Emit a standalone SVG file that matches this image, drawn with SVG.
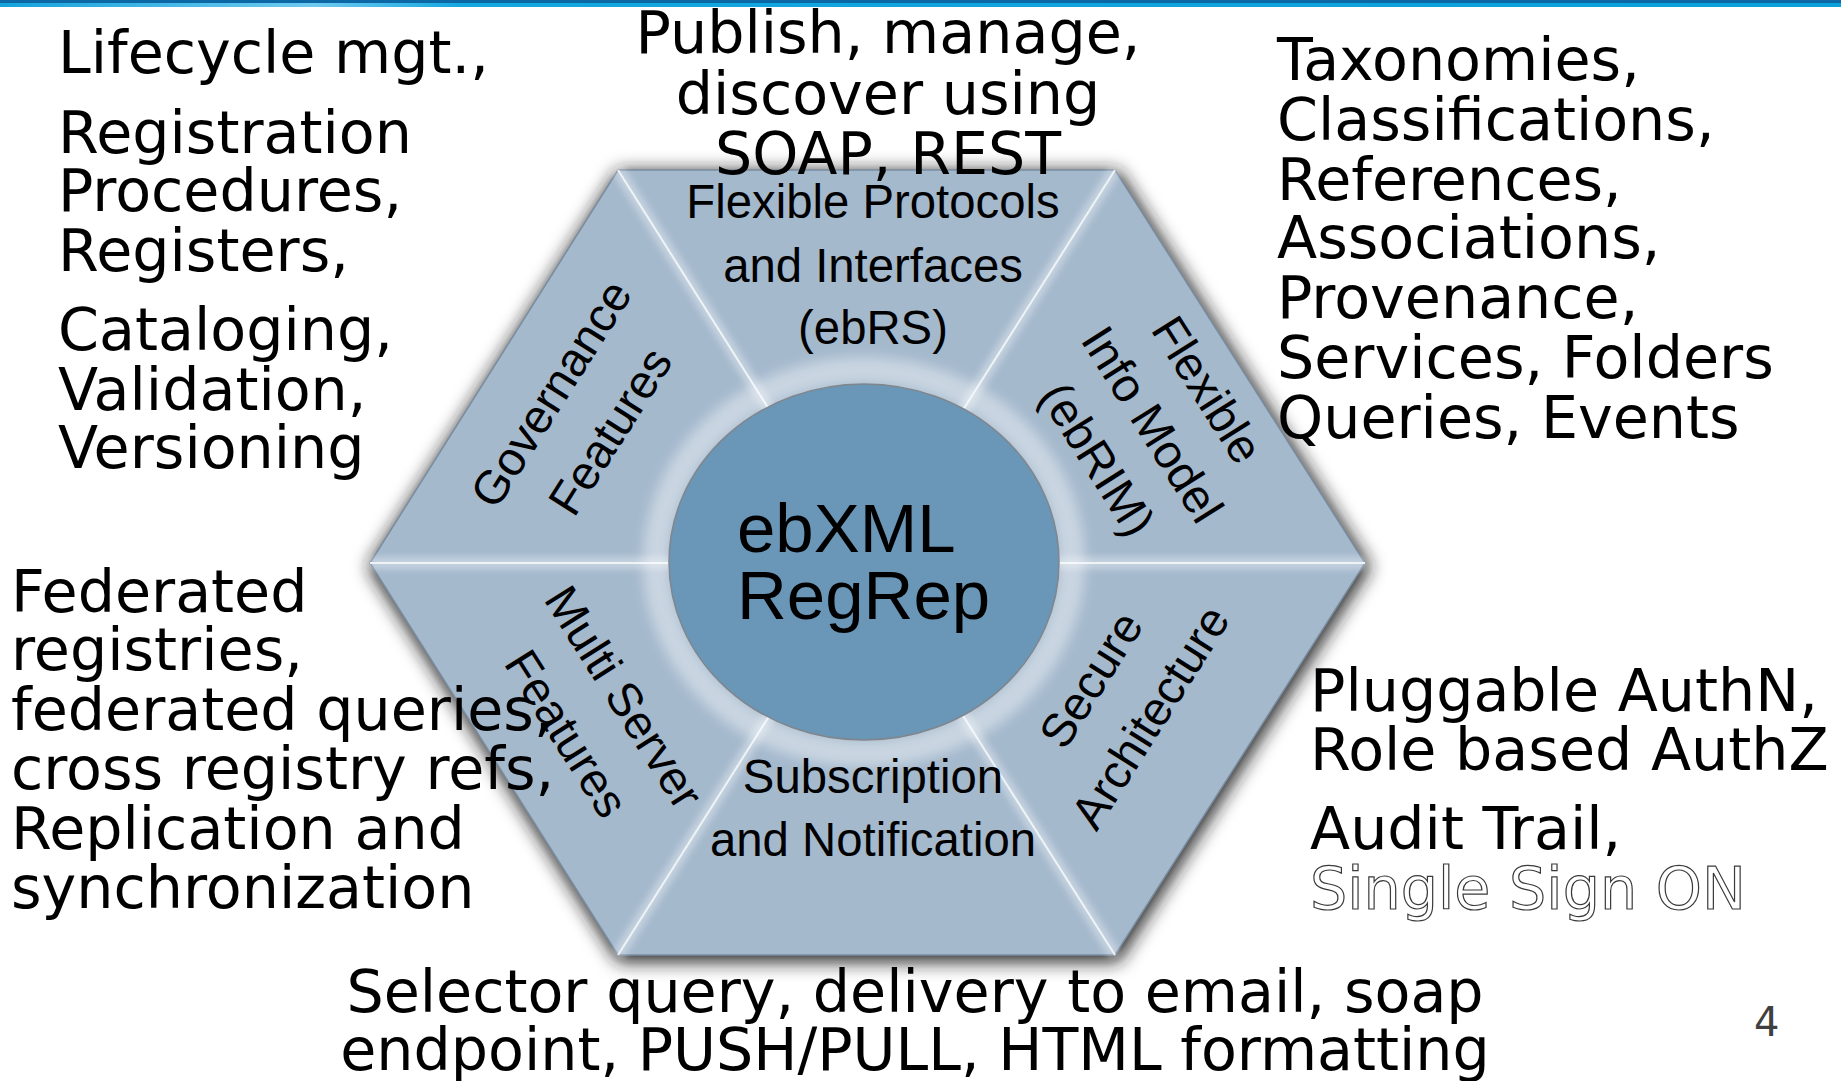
<svg xmlns="http://www.w3.org/2000/svg" width="1841" height="1081" viewBox="0 0 1841 1081">
  <style>
    .ext { font-family: "DejaVu Sans", "Liberation Sans", sans-serif; font-size: 58.7px; fill: #000; }
    .mid { text-anchor: middle; }
    .lbl { font-family: "Liberation Sans", Arial, sans-serif; font-size: 47.3px; fill: #000; text-anchor: middle; }
    .core { font-family: "Liberation Sans", Arial, sans-serif; font-size: 69px; fill: #000; }
    .seg { fill: #a5b9cd; }
    .spoke-glow { stroke: #ffffff; stroke-width: 12; stroke-opacity: 0.35; fill: none; }
    .spoke { stroke: #eef3f8; stroke-width: 2; fill: none; }
    .outline { fill: #ffffff; stroke: #3a3a3a; stroke-width: 1.2; }
  </style>
  <defs>
    <filter id="shadow" x="-15%" y="-15%" width="130%" height="130%">
      <feGaussianBlur stdDeviation="9"/>
    </filter>
    <filter id="soft" x="-10%" y="-10%" width="120%" height="120%">
      <feGaussianBlur stdDeviation="3"/>
    </filter>
    <filter id="ringblur" x="-20%" y="-20%" width="140%" height="140%">
      <feGaussianBlur stdDeviation="6"/>
    </filter>
    <linearGradient id="bar" x1="0" y1="0" x2="1" y2="0">
      <stop offset="0" stop-color="#14a3dc"/>
      <stop offset="0.17" stop-color="#6fcaf0"/>
      <stop offset="0.25" stop-color="#14a8e0"/>
      <stop offset="1" stop-color="#0aa0dc"/>
    </linearGradient>
  </defs>

  <rect x="0" y="0" width="1841" height="1081" fill="#ffffff"/>
  <g id="top-bar">
    <rect x="0" y="0" width="1841" height="3" fill="#0b68a4"/>
    <rect x="0" y="3" width="1841" height="4" fill="url(#bar)"/>
  </g>

  <g id="hexagon">
    <path d="M618,170 L1115,170 L1365,563 L1115,955 L618,955 L370,563 Z" fill="#1e1e1e" fill-opacity="0.95" stroke="#1e1e1e" stroke-width="6" stroke-opacity="0.9" transform="translate(2,4)" filter="url(#shadow)"/>
    <g id="seg-protocols"><polygon class="seg" points="866,563 618,170 1115,170"/></g>
    <g id="seg-infomodel"><polygon class="seg" points="866,563 1115,170 1365,563"/></g>
    <g id="seg-secure"><polygon class="seg" points="866,563 1365,563 1115,955"/></g>
    <g id="seg-subscription"><polygon class="seg" points="866,563 1115,955 618,955"/></g>
    <g id="seg-multiserver"><polygon class="seg" points="866,563 618,955 370,563"/></g>
    <g id="seg-governance"><polygon class="seg" points="866,563 370,563 618,170"/></g>
    <path d="M618,170 L1115,170 L1365,563 L1115,955 L618,955 L370,563 Z" fill="none" stroke="#7a8ca0" stroke-width="1.5"/>
  </g>

  <g id="connectors">
    <g filter="url(#soft)">
      <line class="spoke-glow" x1="618" y1="170" x2="866" y2="563"/>
      <line class="spoke-glow" x1="1115" y1="170" x2="866" y2="563"/>
      <line class="spoke-glow" x1="1365" y1="563" x2="866" y2="563"/>
      <line class="spoke-glow" x1="1115" y1="955" x2="866" y2="563"/>
      <line class="spoke-glow" x1="618" y1="955" x2="866" y2="563"/>
      <line class="spoke-glow" x1="370" y1="563" x2="866" y2="563"/>
    </g>
    <line class="spoke" x1="618" y1="170" x2="866" y2="563"/>
    <line class="spoke" x1="1115" y1="170" x2="866" y2="563"/>
    <line class="spoke" x1="1365" y1="563" x2="866" y2="563"/>
    <line class="spoke" x1="1115" y1="955" x2="866" y2="563"/>
    <line class="spoke" x1="618" y1="955" x2="866" y2="563"/>
    <line class="spoke" x1="370" y1="563" x2="866" y2="563"/>
  </g>

  <g id="core">
    <ellipse cx="864" cy="562" rx="208" ry="192" fill="none" stroke="#ffffff" stroke-width="26" stroke-opacity="0.4" filter="url(#ringblur)"/>
    <ellipse cx="864" cy="562" rx="195" ry="178" fill="#6a96b8" stroke="#80868c" stroke-width="1.5"/>
    <text class="core" x="737" y="552">ebXML</text>
    <text class="core" x="737" y="619">RegRep</text>
  </g>

  <g id="labels">
    <g id="label-protocols">
      <text class="lbl" x="873" y="218">Flexible Protocols</text>
      <text class="lbl" x="873" y="282">and Interfaces</text>
      <text class="lbl" x="873" y="344">(ebRS)</text>
    </g>
    <g id="label-subscription">
      <text class="lbl" x="873" y="793">Subscription</text>
      <text class="lbl" x="873" y="856">and Notification</text>
    </g>
    <g id="label-governance" transform="translate(580,412) rotate(-57.7)">
      <text class="lbl" x="0" y="-18">Governance</text>
      <text class="lbl" x="0" y="52">Features</text>
    </g>
    <g id="label-infomodel" transform="translate(1153,424) rotate(57.7)">
      <text class="lbl" x="0" y="-48">Flexible</text>
      <text class="lbl" x="0" y="17">Info Model</text>
      <text class="lbl" x="0" y="82">(ebRIM)</text>
    </g>
    <g id="label-multiserver" transform="translate(596,715) rotate(57.7)">
      <text class="lbl" x="0" y="-17">Multi Server</text>
      <text class="lbl" x="0" y="51">Features</text>
    </g>
    <g id="label-secure" transform="translate(1120,698) rotate(-57.7)">
      <text class="lbl" x="0" y="-18">Secure</text>
      <text class="lbl" x="0" y="52">Architecture</text>
    </g>
  </g>

  <g id="note-governance">
    <text class="ext" x="58" y="73">Lifecycle mgt.,</text>
    <text class="ext" x="58" y="153">Registration</text>
    <text class="ext" x="58" y="211">Procedures,</text>
    <text class="ext" x="58" y="271">Registers,</text>
    <text class="ext" x="58" y="350">Cataloging,</text>
    <text class="ext" x="58" y="410">Validation,</text>
    <text class="ext" x="58" y="468">Versioning</text>
  </g>
  <g id="note-protocols">
    <text class="ext mid" x="888" y="53">Publish, manage,</text>
    <text class="ext mid" x="888" y="114">discover using</text>
    <text class="ext mid" x="888" y="174">SOAP, REST</text>
  </g>
  <g id="note-infomodel">
    <text class="ext" x="1277" y="80">Taxonomies,</text>
    <text class="ext" x="1277" y="140">Classifications,</text>
    <text class="ext" x="1277" y="200">References,</text>
    <text class="ext" x="1277" y="258">Associations,</text>
    <text class="ext" x="1277" y="318">Provenance,</text>
    <text class="ext" x="1277" y="378">Services, Folders</text>
    <text class="ext" x="1277" y="438">Queries, Events</text>
  </g>
  <g id="note-multiserver">
    <text class="ext" x="11" y="612">Federated</text>
    <text class="ext" x="11" y="670">registries,</text>
    <text class="ext" x="11" y="730">federated queries,</text>
    <text class="ext" x="11" y="789">cross registry refs,</text>
    <text class="ext" x="11" y="849">Replication and</text>
    <text class="ext" x="11" y="908">synchronization</text>
  </g>
  <g id="note-secure">
    <text class="ext" x="1310" y="711">Pluggable AuthN,</text>
    <text class="ext" x="1310" y="770">Role based AuthZ</text>
    <text class="ext" x="1310" y="849">Audit Trail,</text>
    <text class="ext outline" x="1310" y="909">Single Sign ON</text>
  </g>
  <g id="note-subscription">
    <text class="ext mid" x="915" y="1012">Selector query, delivery to email, soap</text>
    <text class="ext mid" x="915" y="1070">endpoint, PUSH/PULL, HTML formatting</text>
  </g>
  <text id="page-number" x="1754" y="1036" font-family="DejaVu Sans, sans-serif" font-size="40" fill="#404040">4</text>
</svg>
